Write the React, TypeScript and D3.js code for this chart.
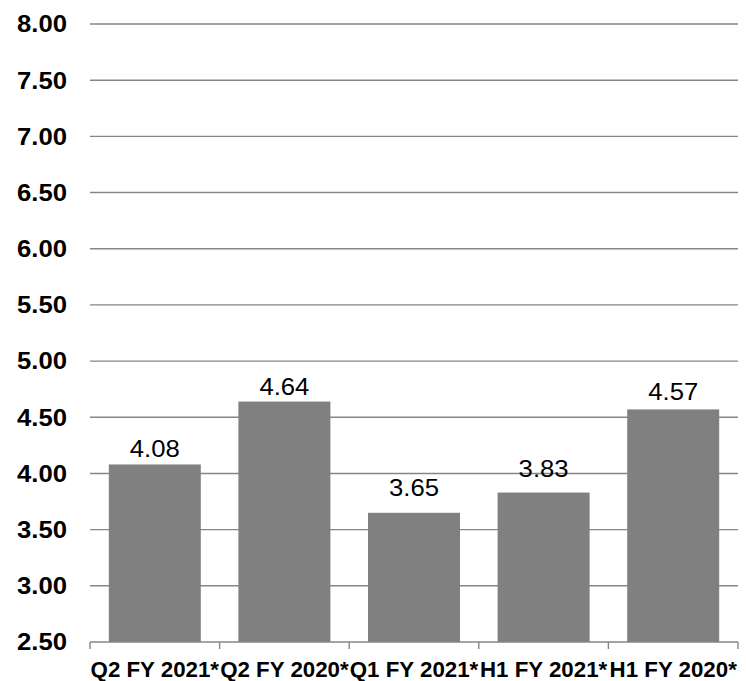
import * as d3 from 'd3'

// chart data
const categories = ['Q2 FY 2021*', 'Q2 FY 2020*', 'Q1 FY 2021*', 'H1 FY 2021*', 'H1 FY 2020*']
const values = [4.08, 4.64, 3.65, 3.83, 4.57]
const yTicks = [2.5, 3, 3.5, 4, 4.5, 5, 5.5, 6, 6.5, 7, 7.5, 8]

// label lift above bar top (px), a couple sit higher to clear gridlines
const labelLift = [7, 7, 17, 16, 9]

const W = 746
const H = 681
const margins = { top: 24, right: 8, bottom: 39, left: 90 }
const innerRight = W - margins.right
const innerBottom = H - margins.bottom

const gridColor = '#868686'
const barColor = '#808080'
const font = '"Liberation Sans", Arial, sans-serif'

export default function App() {
	const x = d3
		.scaleBand<string>()
		.domain(categories)
		.range([margins.left, innerRight])
		.paddingInner(0.29)
		.paddingOuter(0.145)

	const y = d3.scaleLinear().domain([2.5, 8]).range([innerBottom, margins.top])

	const step = x.step()
	const boundaries = d3.range(categories.length + 1).map((i) => margins.left + i * step)

	return (
		<svg
			width={W}
			height={H}
			style={{ position: 'absolute', left: 0, top: 0, background: '#fff' }}
			fontFamily={font}
		>
			{/* gridlines */}
			{yTicks.slice(1).map((t) => (
				<line
					key={'g' + t}
					x1={margins.left}
					x2={innerRight}
					y1={y(t)}
					y2={y(t)}
					stroke={gridColor}
					strokeWidth={1.4}
				/>
			))}

			{/* bars */}
			{categories.map((c, i) => (
				<rect
					key={c}
					x={x(c)}
					y={y(values[i])}
					width={x.bandwidth()}
					height={innerBottom - y(values[i])}
					fill={barColor}
				/>
			))}

			{/* value labels */}
			{categories.map((c, i) => (
				<text
					key={'v' + c}
					transform={`translate(${(x(c) ?? 0) + x.bandwidth() / 2},${y(values[i]) - labelLift[i]}) scale(1.07,1)`}
					textAnchor="middle"
					fontSize={24}
					fill="#000"
				>
					{values[i].toFixed(2)}
				</text>
			))}

			{/* x axis */}
			<line
				x1={margins.left}
				x2={innerRight}
				y1={innerBottom}
				y2={innerBottom}
				stroke={gridColor}
				strokeWidth={1.4}
			/>
			{boundaries.map((bx, i) => (
				<line
					key={'t' + i}
					x1={bx}
					x2={bx}
					y1={innerBottom}
					y2={innerBottom + 7}
					stroke={gridColor}
					strokeWidth={1.4}
				/>
			))}
			{categories.map((c) => (
				<text
					key={'x' + c}
					transform={`translate(${(x(c) ?? 0) + x.bandwidth() / 2},${H - 4}) scale(0.97,1)`}
					textAnchor="middle"
					fontSize={23}
					fontWeight="bold"
					fill="#000"
				>
					{c}
				</text>
			))}

			{/* y axis labels */}
			{yTicks.map((t) => (
				<text
					key={'y' + t}
					transform={`translate(67,${y(t)}) scale(1.07,1)`}
					dy="0.35em"
					textAnchor="end"
					fontSize={24}
					fontWeight="bold"
					fill="#000"
				>
					{t.toFixed(2)}
				</text>
			))}
		</svg>
	)
}
